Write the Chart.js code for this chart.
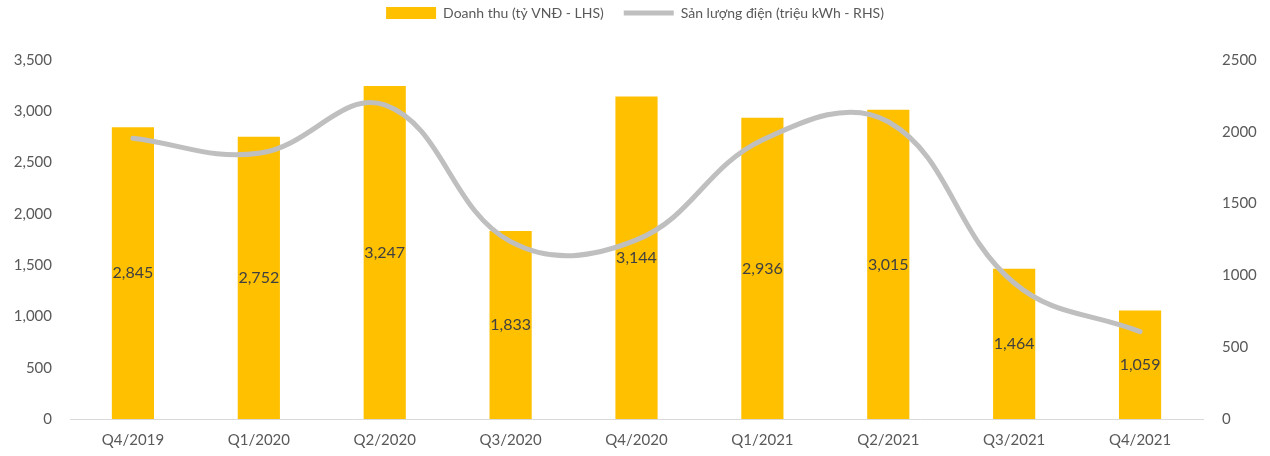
<!DOCTYPE html>
<html>
<head>
<meta charset="utf-8">
<script src="https://cdn.jsdelivr.net/npm/chart.js@4.4.1/dist/chart.umd.min.js"></script>
<style>
  html, body { margin: 0; padding: 0; background: #fff; }
  #wrap { width: 1270px; height: 456px; }
</style>
</head>
<body>
<div id="wrap"><canvas id="chart"></canvas></div>
<script>
// categories and series
const quarters = ['Q4/2019', 'Q1/2020', 'Q2/2020', 'Q3/2020', 'Q4/2020', 'Q1/2021', 'Q2/2021', 'Q3/2021', 'Q4/2021'];
const revenue = [2845, 2752, 3247, 1833, 3144, 2936, 3015, 1464, 1059];        // tỷ VNĐ, left axis
const output = [1955, 1850, 2187, 1235, 1247, 1943, 2070, 947, 608];            // triệu kWh, right axis
const leftTicks = [0, 500, 1000, 1500, 2000, 2500, 3000, 3500];
const rightTicks = [0, 500, 1000, 1500, 2000, 2500];

const FONT = "Lato, 'Noto Sans', sans-serif";
const TEXT = '#595959';

/* ── bar value labels, centred in each bar ── */
const barLabels = {
  id: 'barLabels',
  afterDatasetsDraw(chart) {
    const meta = chart.getDatasetMeta(0);
    const ctx = chart.ctx;
    ctx.save();
    ctx.font = '16px ' + FONT;
    ctx.fillStyle = '#404040';
    ctx.textAlign = 'center';
    ctx.textBaseline = 'middle';
    meta.data.forEach((bar, i) => {
      ctx.fillText(revenue[i].toLocaleString('en-US'), bar.x, (bar.y + bar.base) / 2);
    });
    ctx.restore();
  }
};

/* ── fixed-height legend block so the plot starts lower ── */
const legendGap = {
  id: 'legendGap',
  beforeInit(chart) {
    const fit = chart.legend.fit;
    chart.legend.fit = function () {
      fit.call(this);
      this.height = 74;
    };
  }
};

new Chart(document.getElementById('chart'), {
  type: 'bar',
  data: {
    labels: quarters,
    datasets: [
      {
        type: 'bar',
        label: 'Doanh thu (tỷ VNĐ - LHS)',
        data: revenue,
        backgroundColor: '#FFC000',
        borderWidth: 0,
        yAxisID: 'y',
        order: 1,
        barPercentage: 0.335,
        categoryPercentage: 1,
        pointStyle: 'rect'
      },
      {
        type: 'line',
        label: 'Sản lượng điện (triệu kWh - RHS)',
        data: output,
        borderColor: '#BFBFBF',
        backgroundColor: '#BFBFBF',
        borderWidth: 5,
        borderCapStyle: 'round',
        pointRadius: 0,
        pointStyle: 'line',
        tension: 0.4,
        yAxisID: 'y1',
        order: 0
      }
    ]
  },
  options: {
    responsive: true,
    maintainAspectRatio: false,
    animation: false,
    layout: { padding: { top: -14, bottom: 0, left: 0, right: 0 } },
    plugins: {
      legend: {
        position: 'top',
        labels: {
          usePointStyle: true,
          pointStyleWidth: 50,
          boxHeight: 12,
          padding: 20,
          color: TEXT,
          font: { family: FONT, size: 14 },
          sort: (a, b) => a.datasetIndex - b.datasetIndex
        }
      },
      tooltip: { enabled: false }
    },
    scales: {
      x: {
        afterFit: (s) => { s.height = 37; },
        grid: { display: false, drawTicks: false },
        border: { display: true, color: '#D9D9D9', width: 1 },
        ticks: { color: TEXT, font: { family: FONT, size: 15 }, padding: 12, maxRotation: 0 }
      },
      y: {
        position: 'left',
        min: 0,
        max: 3500,
        afterBuildTicks: (s) => { s.ticks = leftTicks.map(v => ({ value: v })); },
        afterFit: (s) => { s.width = 70; },
        grid: { display: false, drawTicks: false },
        border: { display: false },
        ticks: {
          color: TEXT,
          font: { family: FONT, size: 15 },
          padding: 18,
          callback: (v) => v.toLocaleString('en-US')
        }
      },
      y1: {
        position: 'right',
        min: 0,
        max: 2500,
        afterBuildTicks: (s) => { s.ticks = rightTicks.map(v => ({ value: v })); },
        afterFit: (s) => { s.width = 67; },
        grid: { display: false, drawTicks: false },
        border: { display: false },
        ticks: {
          color: TEXT,
          font: { family: FONT, size: 15 },
          padding: 19,
          callback: (v) => String(v)
        }
      }
    }
  },
  plugins: [barLabels, legendGap]
});
</script>
</body>
</html>
